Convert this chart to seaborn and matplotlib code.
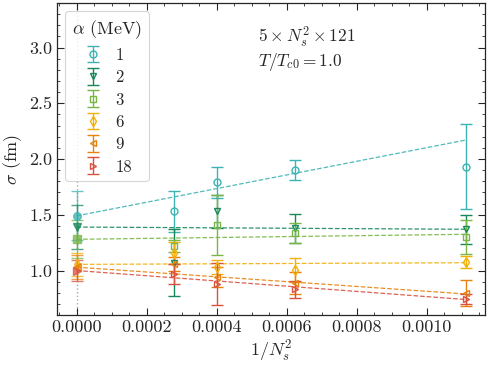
import numpy as np
import pandas as pd
import matplotlib
matplotlib.use("Agg")
import matplotlib.pyplot as plt
from matplotlib.ticker import FormatStrFormatter, AutoMinorLocator
import seaborn as sns

# spatial sizes -> x = 1/Ns^2
ns = np.array([60, 50, 40, 30])
x_inv = 1.0 / ns**2

alphas = ["1", "2", "3", "6", "9", "18"]
colors = ["#3db3b3", "#17885a", "#78b645", "#f2b00a", "#e8820e", "#d9513f"]
markers = ["o", "v", "s", "d", "<", ">"]

# measured string tension widths (fm) at each Ns
sigma = {
    "1": [1.53, 1.79, 1.905, 1.93],
    "2": [1.07, 1.53, 1.38, 1.37],
    "3": [1.22, 1.41, 1.34, 1.30],
    "6": [1.155, 1.03, 1.006, 1.075],
    "9": [1.06, 0.94, 0.89, 0.80],
    "18": [0.97, 0.88, 0.83, 0.745],
}
sigma_err = {
    "1": [0.18, 0.14, 0.09, 0.38],
    "2": [0.30, 0.15, 0.13, 0.13],
    "3": [0.05, 0.27, 0.09, 0.15],
    "6": [0.10, 0.06, 0.11, 0.055],
    "9": [0.06, 0.09, 0.10, 0.115],
    "18": [0.09, 0.19, 0.075, 0.045],
}
# extrapolated value at 1/Ns^2 = 0 and its error
sigma_ext = [1.49, 1.39, 1.28, 1.055, 1.03, 1.00]
sigma_ext_err = [0.22, 0.20, 0.17, 0.10, 0.11, 0.095]
# fit line value at the largest 1/Ns^2
fit_end = [2.17, 1.37, 1.325, 1.07, 0.79, 0.74]

sns.set_style("ticks")
plt.rcParams["font.family"] = "serif"
plt.rcParams["font.serif"] = ["cmr10", "DejaVu Serif"]
plt.rcParams["mathtext.fontset"] = "cm"
plt.rcParams["axes.formatter.use_mathtext"] = True
plt.rcParams["xtick.direction"] = "in"
plt.rcParams["ytick.direction"] = "in"

fig, ax = plt.subplots(figsize=(4.88, 3.66), dpi=100)
fig.subplots_adjust(left=0.117, right=0.994, bottom=0.139, top=0.992)

ax.axvline(0, color="#aaaaaa", ls=":", lw=1.0, zorder=0)

for i, a in enumerate(alphas):
    c = colors[i]
    # fit line from x=0 to largest x
    fit_df = pd.DataFrame({"x": [0.0, x_inv.max()], "y": [sigma_ext[i], fit_end[i]]})
    sns.lineplot(data=fit_df, x="x", y="y", ax=ax, color=c, ls="--", lw=0.9,
                 alpha=0.9, legend=False)
    ax.errorbar(x_inv, sigma[a], yerr=sigma_err[a], fmt=markers[i], color=c,
                mfc="none", ms=5, mew=1.0, elinewidth=1.0, capsize=4,
                capthick=1.0, label=a)
    ax.errorbar([0.0], [sigma_ext[i]], yerr=[sigma_ext_err[i]], fmt=markers[i],
                color=c, ms=5.5, elinewidth=1.0, capsize=4, capthick=1.0,
                alpha=0.75)

ax.set_ylim(0.6, 3.4)
ax.margins(x=0.05)
ax.xaxis.set_major_formatter(FormatStrFormatter("%.4f"))
ax.yaxis.set_major_formatter(FormatStrFormatter("%.1f"))
ax.set_xticks([0.0, 0.0002, 0.0004, 0.0006, 0.0008, 0.0010])
ax.set_yticks([1.0, 1.5, 2.0, 2.5, 3.0])
ax.xaxis.set_minor_locator(AutoMinorLocator(4))
ax.yaxis.set_minor_locator(AutoMinorLocator(5))
ax.tick_params(which="both", top=True, right=True, labelsize=13)
ax.tick_params(which="major", length=5, width=0.8)
ax.tick_params(which="minor", length=2.5, width=0.6)
for s in ax.spines.values():
    s.set_linewidth(0.9)

ax.set_xlabel(r"$1/N_s^2$", fontsize=13, labelpad=2)
ax.set_ylabel(r"$\sigma$ (fm)", fontsize=13, labelpad=4)

ax.text(0.47, 0.93, r"$5\times N_s^2\times 121$" + "\n" + r"$T/T_{c0}=1.0$",
        transform=ax.transAxes, fontsize=12.5, va="top", ha="left",
        linespacing=1.1)

leg = ax.legend(title=r"$\alpha$ (MeV)", loc="upper left", fontsize=12,
                title_fontsize=13, handlelength=1.3, handletextpad=0.7,
                labelspacing=0.42, borderaxespad=0.5, frameon=True,
                fancybox=True)
leg.get_frame().set_edgecolor("#cccccc")
leg.get_frame().set_linewidth(0.8)

fig.savefig("out.png", dpi=100)
